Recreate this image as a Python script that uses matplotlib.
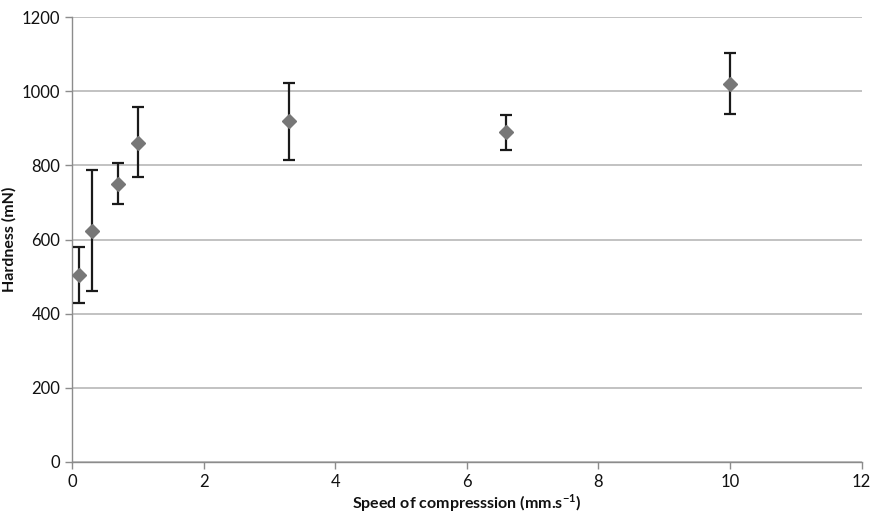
import numpy as np
import matplotlib
matplotlib.use("Agg")
from matplotlib import pyplot as plt

# speed of compression (mm/s) vs hardness (mN)
speed = [0.1, 0.3, 0.7, 1.0, 3.3, 6.6, 10.0]
hardness = [504, 623, 751, 861, 919, 889, 1020]
err_low = [428, 462, 695, 768, 815, 841, 938]
err_high = [581, 788, 807, 957, 1021, 936, 1102]

x_ticks = [0, 2, 4, 6, 8, 10, 12]
y_ticks = [0, 200, 400, 600, 800, 1000, 1200]

plt.rcParams['font.family'] = ['Lato', 'DejaVu Sans']
plt.rcParams['mathtext.fontset'] = 'custom'
plt.rcParams['mathtext.rm'] = 'Lato'
plt.rcParams['mathtext.bf'] = 'Lato:bold'

fig = plt.figure(figsize=(8.73, 5.17), dpi=100)
ax = fig.add_axes([0.0825, 0.1064, 0.9045, 0.8606])

h = np.array(hardness)
yerr = [h - np.array(err_low), np.array(err_high) - h]

ax.errorbar(speed, hardness, yerr=yerr, fmt='D', color='#777777', markersize=7,
            ecolor='#1a1a1a', elinewidth=1.6, capsize=4, capthick=1.6, zorder=3)

ax.set_xlim(0, 12)
ax.set_ylim(0, 1200)
ax.set_xticks(x_ticks)
ax.set_yticks(y_ticks)
ax.yaxis.grid(True, color='#b8b8b8', linewidth=1.2)
ax.set_axisbelow(True)

for s in ['top', 'right']:
    ax.spines[s].set_visible(False)
for s in ['left', 'bottom']:
    ax.spines[s].set_color('#8c8c8c')
    ax.spines[s].set_linewidth(1.0)
ax.tick_params(axis='both', colors='#8c8c8c', labelcolor='#111111', labelsize=12,
               length=5, width=1.0)

ax.set_xlabel(r'Speed of compresssion (mm.s$^{\mathbf{-1}}$)', fontsize=11.5, fontweight='bold',
              color='#111111', labelpad=2)
ax.set_ylabel('Hardness (mN)', fontsize=11.5, fontweight='bold', color='#111111', labelpad=4)

fig.savefig('out.png', dpi=100)
